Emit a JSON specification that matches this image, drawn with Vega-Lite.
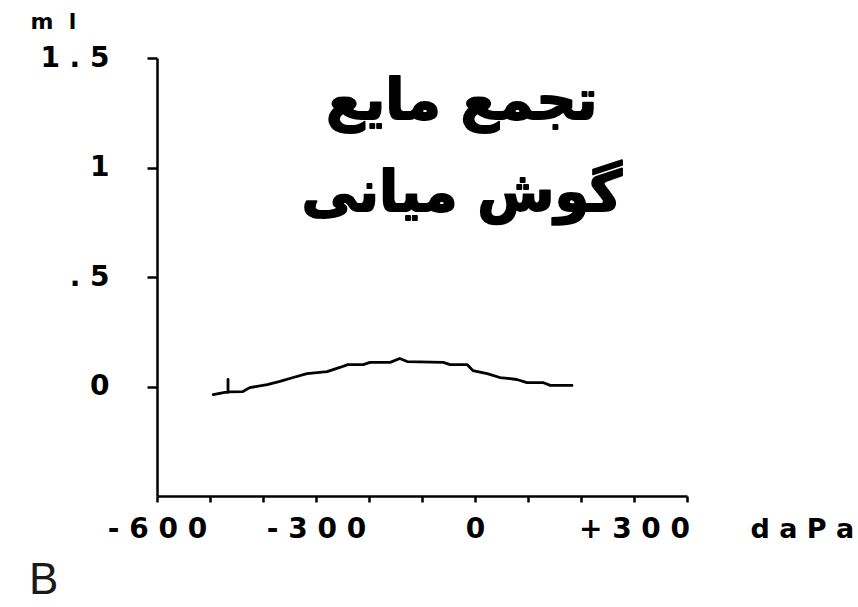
{
  "$schema": "https://vega.github.io/schema/vega-lite/v6.json",
  "width": 530,
  "height": 438,
  "autosize": "none",
  "padding": {"left": 157, "top": 58, "right": 171, "bottom": 111},
  "background": "white",
  "config": {"view": {"stroke": null}},
  "title": {
    "text": "B",
    "orient": "bottom",
    "anchor": "start",
    "frame": "group",
    "font": "Liberation Sans",
    "fontSize": 44,
    "fontWeight": "normal",
    "color": "#1a1a1a",
    "dx": -128,
    "offset": 16
  },
  "layer": [
    {
      "data": {
        "values": [
          {"i": 1, "pressure": -494, "volume": -0.037},
          {"i": 2, "pressure": -472, "volume": -0.027},
          {"i": 3, "pressure": -466, "volume": -0.027},
          {"i": 4, "pressure": -466, "volume": 0.032},
          {"i": 5, "pressure": -466, "volume": -0.025},
          {"i": 6, "pressure": -438, "volume": -0.023},
          {"i": 7, "pressure": -425, "volume": -0.005},
          {"i": 8, "pressure": -392, "volume": 0.009},
          {"i": 9, "pressure": -368, "volume": 0.023},
          {"i": 10, "pressure": -343, "volume": 0.041},
          {"i": 11, "pressure": -317, "volume": 0.059},
          {"i": 12, "pressure": -279, "volume": 0.068},
          {"i": 13, "pressure": -255, "volume": 0.087},
          {"i": 14, "pressure": -240, "volume": 0.1},
          {"i": 15, "pressure": -211, "volume": 0.1},
          {"i": 16, "pressure": -198, "volume": 0.11},
          {"i": 17, "pressure": -160, "volume": 0.11},
          {"i": 18, "pressure": -142, "volume": 0.128},
          {"i": 19, "pressure": -128, "volume": 0.114},
          {"i": 20, "pressure": -60, "volume": 0.11},
          {"i": 21, "pressure": -47, "volume": 0.1},
          {"i": 22, "pressure": -15, "volume": 0.1},
          {"i": 23, "pressure": -4, "volume": 0.073},
          {"i": 24, "pressure": 23, "volume": 0.059},
          {"i": 25, "pressure": 47, "volume": 0.041},
          {"i": 26, "pressure": 79, "volume": 0.032},
          {"i": 27, "pressure": 98, "volume": 0.018},
          {"i": 28, "pressure": 128, "volume": 0.018},
          {"i": 29, "pressure": 142, "volume": 0.005},
          {"i": 30, "pressure": 183, "volume": 0.005}
        ]
      },
      "mark": {"type": "line", "color": "black", "strokeWidth": 2.8, "strokeJoin": "round", "strokeCap": "round"},
      "encoding": {
        "x": {
          "field": "pressure",
          "type": "quantitative",
          "scale": {"domain": [-600, 400], "nice": false, "zero": false},
          "axis": {
            "values": [-600, -500, -400, -300, -200, -100, 0, 100, 200, 300, 400],
            "labelExpr": "datum.value == -600 ? '- 6 0 0' : datum.value == -300 ? '- 3 0 0\u00a0\u00a0\u00a0\u00a0\u00a0' : datum.value == 0 ? '0' : datum.value == 300 ? '+ 3 0 0' : ''",
            "grid": false,
            "domainColor": "black",
            "domainWidth": 2.5,
            "tickColor": "black",
            "tickWidth": 2.5,
            "tickSize": 6,
            "labelFont": "DejaVu Sans",
            "labelFontSize": 28,
            "labelFontWeight": "bold",
            "labelColor": "black",
            "labelBaseline": "top",
            "labelPadding": 13,
            "labelFlush": false,
            "labelOverlap": false,
            "labelBound": false,
            "title": "d a P a",
            "titleFont": "DejaVu Sans",
            "titleFontSize": 27,
            "titleFontWeight": "bold",
            "titleColor": "black",
            "titleX": 593,
            "titleY": 41,
            "titleAlign": "left",
            "titleBaseline": "alphabetic"
          }
        },
        "y": {
          "field": "volume",
          "type": "quantitative",
          "scale": {"domain": [-0.5, 1.5], "nice": false, "zero": false},
          "axis": {
            "values": [0, 0.5, 1, 1.5],
            "labelExpr": "datum.value == 1.5 ? '1 . 5' : datum.value == 1 ? '1\u00a0\u00a0\u00a0' : datum.value == 0.5 ? '. 5' : '0\u00a0\u00a0'",
            "grid": false,
            "domainColor": "black",
            "domainWidth": 2.5,
            "tickColor": "black",
            "tickWidth": 2.5,
            "tickSize": 10,
            "labelFont": "DejaVu Sans",
            "labelFontSize": 28,
            "labelFontWeight": "bold",
            "labelColor": "black",
            "labelAlign": "right",
            "labelBaseline": "middle",
            "labelPadding": 38,
            "labelFlush": false,
            "labelOverlap": false,
            "labelBound": false,
            "title": "m\u00a0\u00a0l",
            "titleFont": "DejaVu Sans",
            "titleFontSize": 22,
            "titleFontWeight": "bold",
            "titleColor": "black",
            "titleAngle": 0,
            "titleX": -127,
            "titleY": -30,
            "titleAlign": "left",
            "titleBaseline": "alphabetic"
          }
        },
        "order": {"field": "i", "type": "quantitative"}
      }
    },
    {
      "data": {"values": [{}]},
      "mark": {
        "type": "text",
        "text": ["تجمع مایع", "گوش میانی"],
        "font": "DejaVu Sans",
        "fontSize": 56,
        "fontWeight": "bold",
        "align": "center",
        "baseline": "middle",
        "lineHeight": 92,
        "color": "black",
        "stroke": "black",
        "strokeWidth": 1.8,
        "strokeJoin": "round"
      },
      "encoding": {
        "x": {"datum": -25, "type": "quantitative"},
        "y": {"datum": 1.3, "type": "quantitative"}
      }
    }
  ]
}
